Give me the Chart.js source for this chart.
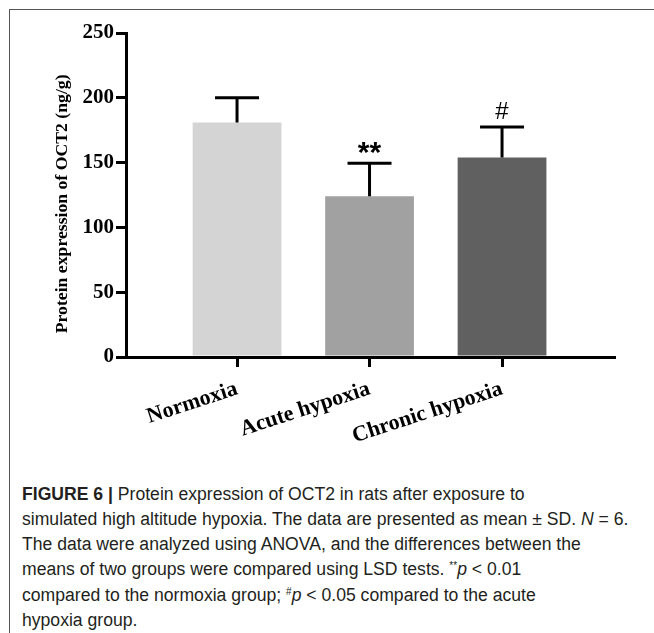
<!DOCTYPE html>
<html>
<head>
<meta charset="utf-8">
<script src="https://cdn.jsdelivr.net/npm/chart.js@4"></script>
<style>
  html, body { margin: 0; padding: 0; background: #fff; }
  body { width: 654px; height: 633px; position: relative; overflow: hidden; }
  #frame { position: absolute; left: 9px; top: 9px; width: 700px; height: 700px;
           border-top: 1px solid #555; border-left: 1px solid #555; }
  #chart { position: absolute; left: 0; top: 0; }
  #caption { position: absolute; left: 22px; top: 482px; font-family: "Liberation Sans", Arial, sans-serif;
             font-size: 17.6px; line-height: 25.15px; color: #231f20; white-space: nowrap; }
  #caption b { font-weight: bold; }
  #caption sup { font-size: 10px; vertical-align: 6px; line-height: 0; }
</style>
</head>
<body>
<div id="frame"></div>
<canvas id="chart" width="654" height="470"></canvas>
<div id="caption">
<b>FIGURE 6 |</b> Protein expression of OCT2 in rats after exposure to<br>
simulated high altitude hypoxia. The data are presented as mean ± SD. <i>N</i> = 6.<br>
The data were analyzed using ANOVA, and the differences between the<br>
means of two groups were compared using LSD tests. <sup>**</sup><i>p</i> &lt; 0.01<br>
compared to the normoxia group; <sup>#</sup><i>p</i> &lt; 0.05 compared to the acute<br>
hypoxia group.
</div>
<script>
const categories = ['Normoxia', 'Acute hypoxia', 'Chronic hypoxia'];
const means = [181, 124, 154];
const sds = [19, 25.5, 23.5];
const marks = ['', '**', '#'];
const barColors = ['#d4d4d4', '#a1a1a1', '#606060'];
const yTicks = [0, 50, 100, 150, 200, 250];
const yTitle = 'Protein expression of OCT2 (ng/g)';

const serif = '"Liberation Serif", "Times New Roman", serif';

const errorBarPlugin = {
  id: 'errorBars',
  afterDatasetsDraw(chart) {
    const ctx = chart.ctx;
    const xs = chart.scales.x, ys = chart.scales.y;
    ctx.save();
    ctx.strokeStyle = '#000';
    ctx.lineWidth = 3;
    ctx.fillStyle = '#000';
    ctx.textAlign = 'center';
    ctx.textBaseline = 'alphabetic';
    means.forEach((m, i) => {
      const x = xs.getPixelForValue(i);
      const y0 = ys.getPixelForValue(m);
      const y1 = ys.getPixelForValue(m + sds[i]);
      ctx.beginPath();
      ctx.moveTo(x, y0);
      ctx.lineTo(x, y1);
      ctx.moveTo(x - 22, y1);
      ctx.lineTo(x + 22, y1);
      ctx.stroke();
      if (marks[i] === '**') {
        ctx.font = 'bold 30px "Liberation Sans", Arial, sans-serif';
        ctx.fillText(marks[i], x, y1 - 1);
      } else if (marks[i]) {
        ctx.font = '24px "Liberation Sans", Arial, sans-serif';
        ctx.fillText(marks[i], x, y1 - 8);
      }
    });
    ctx.restore();
  }
};

new Chart(document.getElementById('chart'), {
  type: 'bar',
  data: {
    datasets: [{
      data: means.map((v, i) => ({ x: i, y: v })),
      backgroundColor: barColors,
      borderWidth: 0,
      barPercentage: 0.67,
      categoryPercentage: 1.0
    }]
  },
  options: {
    responsive: false,
    animation: false,
    devicePixelRatio: 1,
    layout: { padding: { left: 0, top: 33, right: 40, bottom: 0 } },
    plugins: { legend: { display: false }, tooltip: { enabled: false } },
    scales: {
      x: {
        type: 'linear',
        offset: false,
        min: -0.838,
        max: 2.845,
        afterBuildTicks(scale) { scale.ticks = [0, 1, 2].map(v => ({ value: v })); },
        afterFit(scale) { scale.height = 470 - 357; },
        border: { display: true, color: '#000', width: 3 },
        grid: { display: true, offset: false, drawOnChartArea: false, drawTicks: true, tickLength: 10, color: '#000', lineWidth: 3 },
        ticks: {
          autoSkip: false,
          minRotation: 18,
          maxRotation: 18,
          padding: 9,
          color: '#000',
          font: { family: serif, size: 22, weight: 'bold' },
          callback: (v) => categories[v] ?? ''
        }
      },
      y: {
        min: 0,
        max: 250,
        afterBuildTicks(scale) { scale.ticks = yTicks.map(v => ({ value: v })); },
        afterFit(scale) { scale.width = 126; },
        border: { display: true, color: '#000', width: 3 },
        grid: { display: true, drawOnChartArea: false, drawTicks: true, tickLength: 10, color: '#000', lineWidth: 3 },
        ticks: {
          padding: 2,
          color: '#000',
          font: { family: serif, size: 21, weight: 'bold' }
        },
        title: {
          display: true,
          text: yTitle + '\u2002\u2002',
          color: '#000',
          font: { family: serif, size: 17.7, weight: 'bold' },
          padding: { top: 52, bottom: 0 }
        }
      }
    }
  },
  plugins: [errorBarPlugin]
});
</script>
</body>
</html>
